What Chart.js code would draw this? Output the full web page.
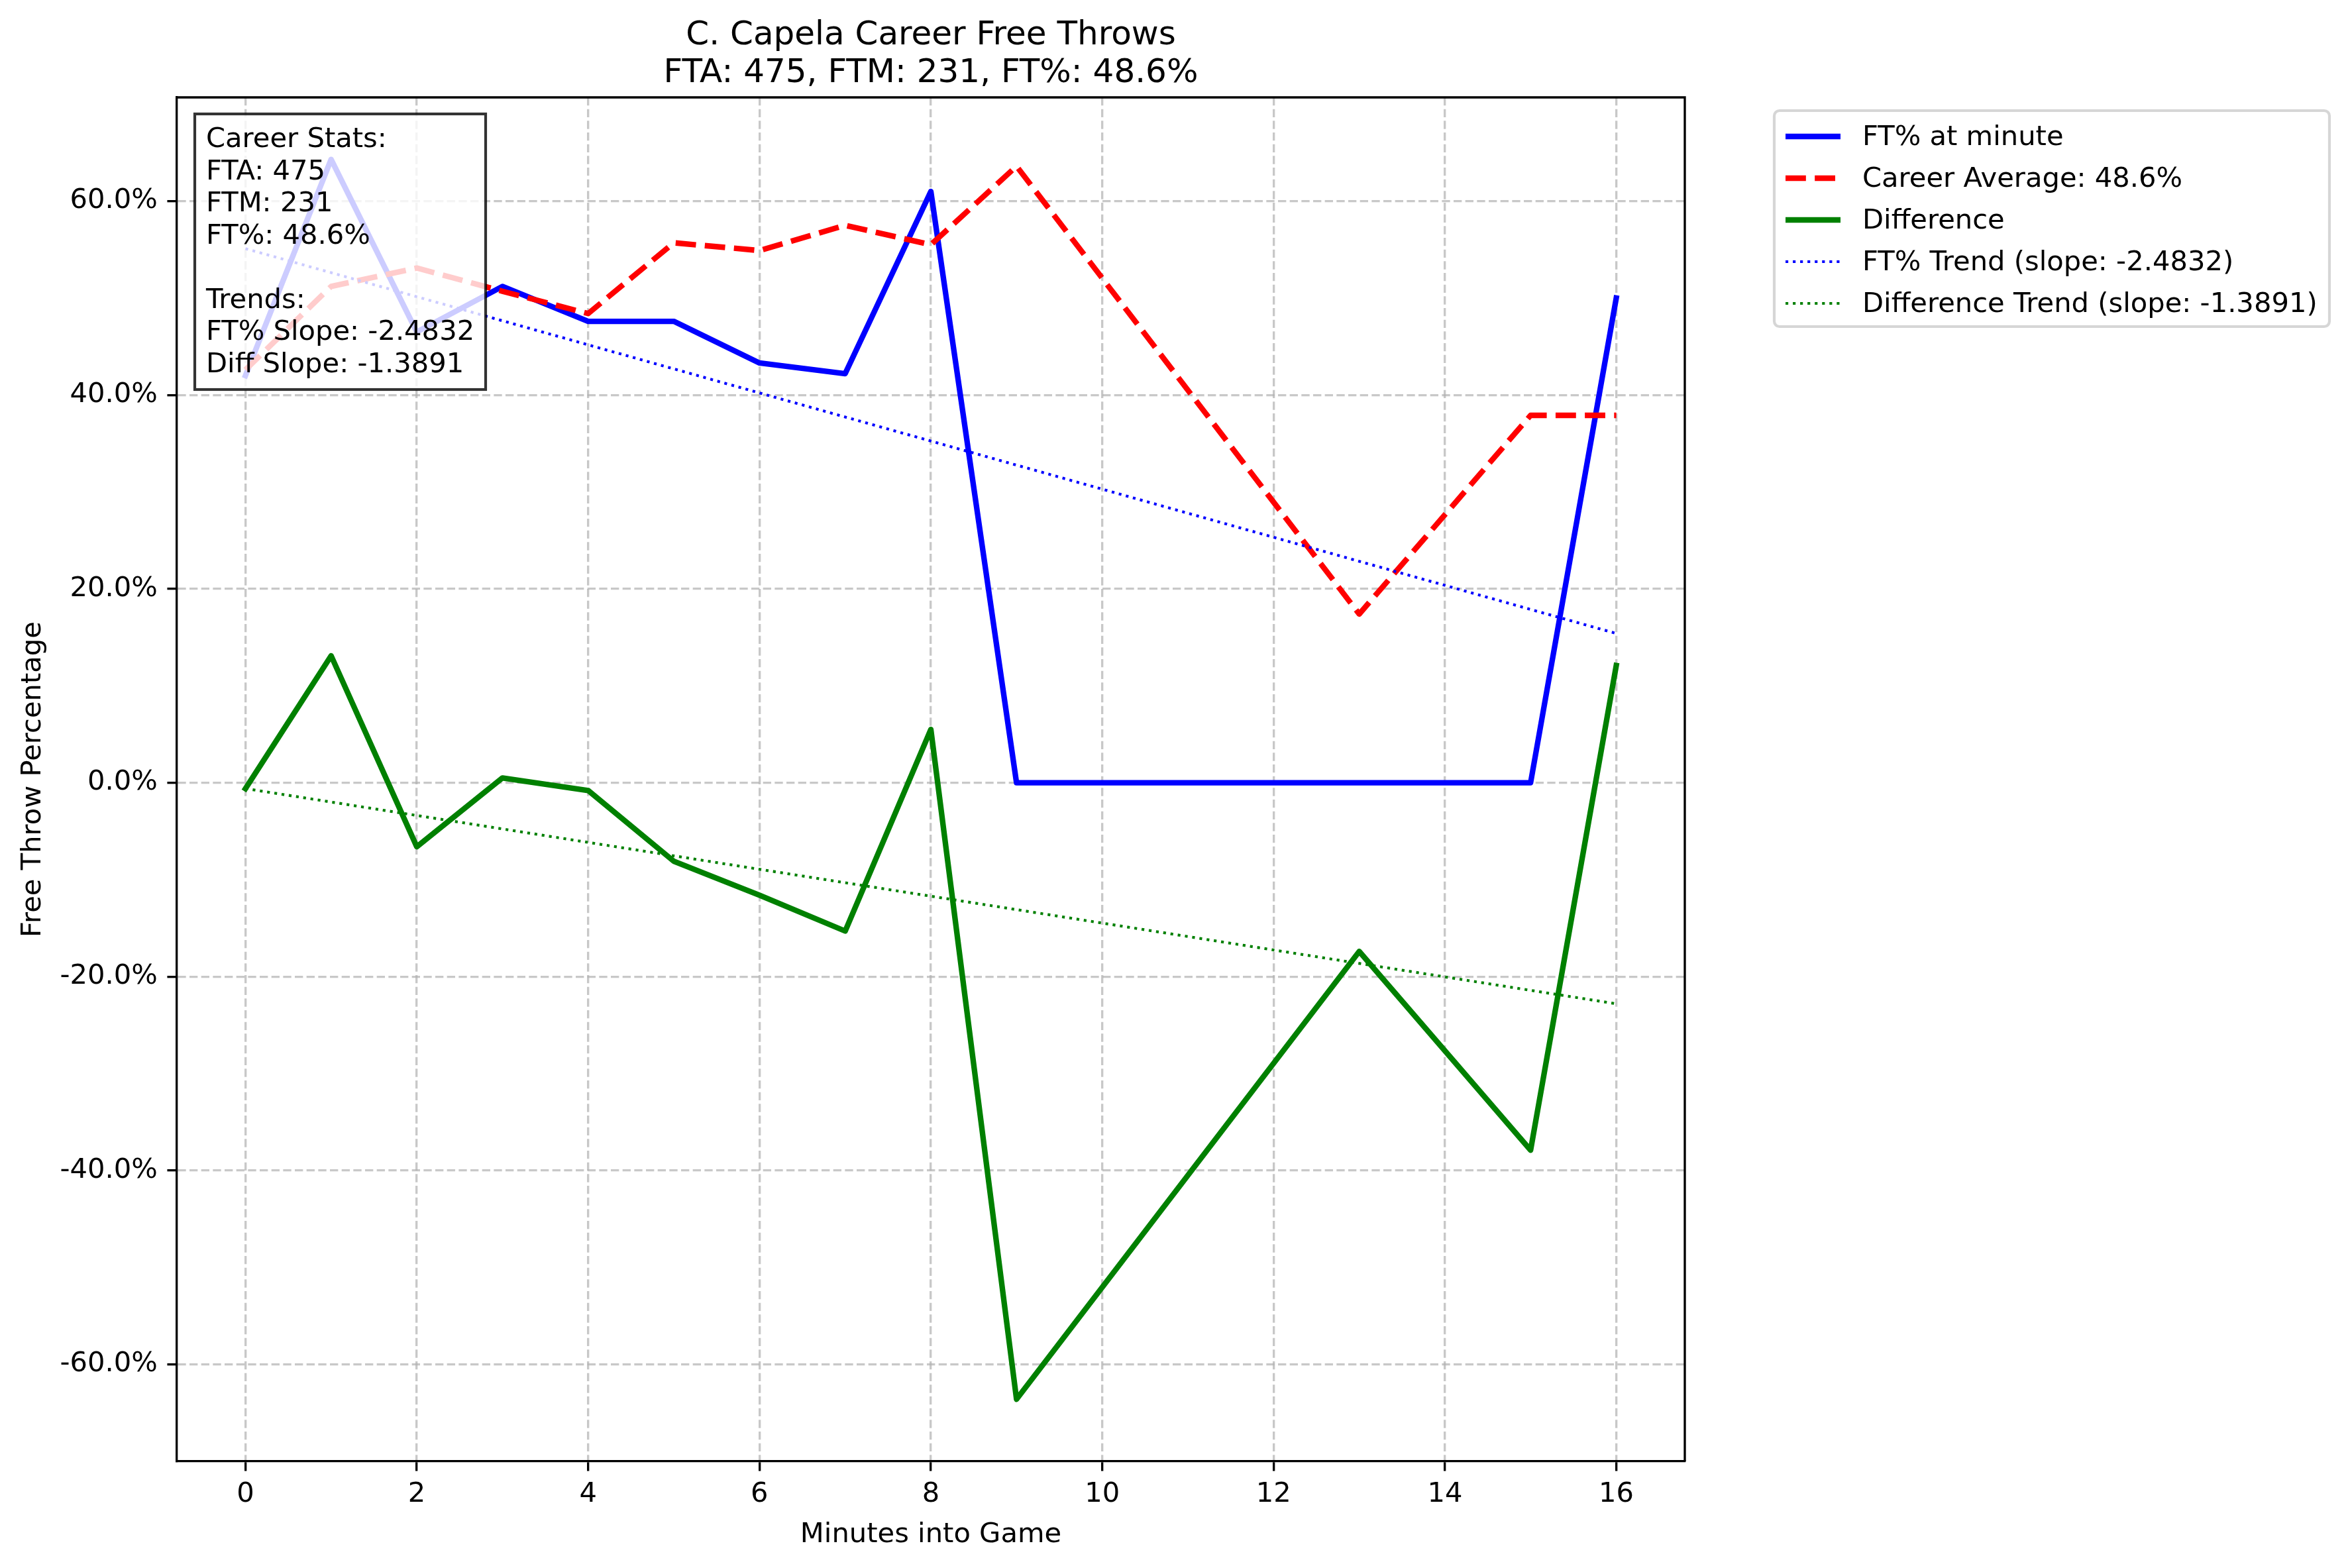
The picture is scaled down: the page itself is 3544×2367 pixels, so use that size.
<!DOCTYPE html>
<html>
<head>
<meta charset="utf-8">
<script src="https://cdn.jsdelivr.net/npm/chart.js@4.4.1/dist/chart.umd.min.js"></script>
<style>
  html, body { margin: 0; padding: 0; background: #fff; }
  #chart { display: block; }
</style>
</head>
<body>
<canvas id="chart" width="3544" height="2367" style="width:3544px;height:2367px"></canvas>
<script>
// minutes with a recorded value (the lines run straight between them)
const minutes = [0, 1, 2, 3, 4, 5, 6, 7, 8, 9, 13, 15, 16];
const ftPct = [42.0, 64.3, 46.5, 51.2, 47.6, 47.6, 43.3, 42.2, 61.0, 0, 0, 0, 50.0];
const careerAvg = [42.6, 51.2, 53.1, 50.7, 48.4, 55.7, 54.9, 57.5, 55.5, 63.6, 17.4, 37.9, 37.9];
const difference = [-0.6, 13.1, -6.6, 0.5, -0.8, -8.1, -11.6, -15.3, 5.5, -63.6, -17.4, -37.9, 12.1];

// trend lines, start and end
const trendMinutes = [0, 16];
const ftTrend = [55.1, 15.4];
const diffTrend = [-0.6, -22.8];

const xTicks = [0, 2, 4, 6, 8, 10, 12, 14, 16];
const yTicks = [-60, -40, -20, 0, 20, 40, 60];

const statsLines = ['Career Stats:', 'FTA: 475', 'FTM: 231', 'FT%: 48.6%', '', 'Trends:', 'FT% Slope: -2.4832', 'Diff Slope: -1.3891'];
const titleLines = ['C. Capela Career Free Throws', 'FTA: 475, FTM: 231, FT%: 48.6%'];

const PT = 300 / 72; // px per point
const FONT = 'DejaVu Sans';
const pts = (xs, ys) => xs.map((x, i) => ({ x: x, y: ys[i] }));

const lineStyles = [
  { color: '#0000ff', width: 2 * PT, dash: [], cap: 'square' },
  { color: '#ff0000', width: 2 * PT, dash: [3.7 * 2 * PT, 1.6 * 2 * PT], cap: 'butt' },
  { color: '#008000', width: 2 * PT, dash: [], cap: 'square' },
  { color: '#0000ff', width: 1 * PT, dash: [1 * PT, 1.65 * PT], cap: 'butt' },
  { color: '#008000', width: 1 * PT, dash: [1 * PT, 1.65 * PT], cap: 'butt' }
];

function makeSet(label, data, idx) {
  const s = lineStyles[idx];
  return {
    label: label,
    data: data,
    borderColor: s.color,
    backgroundColor: s.color,
    borderWidth: s.width,
    borderDash: s.dash,
    borderCapStyle: s.cap,
    borderJoinStyle: 'round',
    pointRadius: 0,
    tension: 0,
    fill: false,
    order: 10 - idx // later series on top, like matplotlib
  };
}

const extras = {
  id: 'extras',
  afterDatasetsDraw(chart) {
    const ctx = chart.ctx;
    const a = chart.chartArea;
    ctx.save();
    // top and right spines
    ctx.strokeStyle = '#000';
    ctx.lineWidth = 0.8 * PT;
    ctx.beginPath();
    ctx.moveTo(a.left, a.top);
    ctx.lineTo(a.right, a.top);
    ctx.lineTo(a.right, a.bottom);
    ctx.stroke();

    // career stats box
    const bx = 294, by = 172, bw = 439, bh = 416;
    ctx.fillStyle = 'rgba(255,255,255,0.8)';
    ctx.fillRect(bx, by, bw, bh);
    ctx.strokeStyle = 'rgba(0,0,0,0.8)';
    ctx.lineWidth = 1 * PT;
    ctx.strokeRect(bx, by, bw, bh);
    ctx.fillStyle = '#000';
    ctx.font = (10 * PT) + 'px "' + FONT + '"';
    ctx.textAlign = 'left';
    ctx.textBaseline = 'alphabetic';
    statsLines.forEach((t, i) => ctx.fillText(t, 311, 222 + i * 48.5));
    ctx.restore();
  },
  afterDraw(chart) {
    const ctx = chart.ctx;
    const a = chart.chartArea;
    ctx.save();
    ctx.fillStyle = '#000';
    // title
    ctx.font = (12 * PT) + 'px "' + FONT + '"';
    ctx.textAlign = 'center';
    ctx.textBaseline = 'alphabetic';
    const cx = (a.left + a.right) / 2;
    ctx.fillText(titleLines[0], cx, 66.7);
    ctx.fillText(titleLines[1], cx, 124);

    // axis titles
    ctx.font = (10 * PT) + 'px "' + FONT + '"';
    ctx.fillText('Minutes into Game', cx, 2328);
    ctx.save();
    ctx.translate(50, (a.top + a.bottom) / 2);
    ctx.rotate(-Math.PI / 2);
    ctx.textBaseline = 'middle';
    ctx.fillText('Free Throw Percentage', 0, 0);
    ctx.restore();

    // legend
    const lx = 2678, ly = 167, lw = 838, lh = 326;
    ctx.beginPath();
    ctx.roundRect(lx, ly, lw, lh, 8);
    ctx.fillStyle = 'rgba(255,255,255,0.8)';
    ctx.fill();
    ctx.strokeStyle = 'rgba(204,204,204,0.8)';
    ctx.lineWidth = 1 * PT;
    ctx.stroke();
    ctx.textAlign = 'left';
    ctx.textBaseline = 'middle';
    chart.data.datasets.forEach((ds, i) => {
      const y = 206 + i * 63;
      const s = lineStyles[i];
      ctx.save();
      ctx.strokeStyle = s.color;
      ctx.lineWidth = s.width;
      ctx.setLineDash(s.dash);
      ctx.lineCap = 'butt';
      ctx.beginPath();
      ctx.moveTo(2695, y);
      ctx.lineTo(2778, y);
      ctx.stroke();
      ctx.restore();
      ctx.fillStyle = '#000';
      ctx.fillText(ds.label, 2811, y + 2);
    });
    ctx.restore();
  }
};

new Chart(document.getElementById('chart'), {
  type: 'line',
  data: {
    datasets: [
      makeSet('FT% at minute', pts(minutes, ftPct), 0),
      makeSet('Career Average: 48.6%', pts(minutes, careerAvg), 1),
      makeSet('Difference', pts(minutes, difference), 2),
      makeSet('FT% Trend (slope: -2.4832)', pts(trendMinutes, ftTrend), 3),
      makeSet('Difference Trend (slope: -1.3891)', pts(trendMinutes, diffTrend), 4)
    ]
  },
  options: {
    responsive: false,
    devicePixelRatio: 1,
    animation: false,
    events: [],
    layout: { padding: { left: 0, top: 147, right: 3544 - 2543, bottom: 0 } },
    plugins: {
      legend: { display: false },
      title: { display: false },
      tooltip: { enabled: false }
    },
    scales: {
      x: {
        type: 'linear',
        min: -0.8,
        max: 16.8,
        afterFit: s => { s.height = 2367 - 2206; },
        afterBuildTicks: s => { s.ticks = xTicks.map(v => ({ value: v })); },
        grid: {
          color: 'rgba(176,176,176,0.7)',
          lineWidth: 0.8 * PT,
          tickColor: '#000',
          tickWidth: 0.8 * PT,
          tickLength: 3.5 * PT,
          tickBorderDash: []
        },
        border: { display: true, color: '#000', width: 0.8 * PT, dash: [2.96 * PT, 1.28 * PT] },
        ticks: {
          color: '#000',
          padding: 11,
          maxRotation: 0,
          autoSkip: false,
          font: { family: FONT, size: 10 * PT },
          callback: v => String(v)
        }
      },
      y: {
        type: 'linear',
        min: -70.0,
        max: 70.7,
        afterFit: s => { s.width = 267; },
        afterBuildTicks: s => { s.ticks = yTicks.map(v => ({ value: v })); },
        grid: {
          color: 'rgba(176,176,176,0.7)',
          lineWidth: 0.8 * PT,
          tickColor: '#000',
          tickWidth: 0.8 * PT,
          tickLength: 3.5 * PT,
          tickBorderDash: []
        },
        border: { display: true, color: '#000', width: 0.8 * PT, dash: [2.96 * PT, 1.28 * PT] },
        ticks: {
          color: '#000',
          padding: 3.5 * PT,
          autoSkip: false,
          font: { family: FONT, size: 10 * PT },
          callback: v => Number(v).toFixed(1) + '%'
        }
      }
    }
  },
  plugins: [extras]
});
</script>
</body>
</html>
